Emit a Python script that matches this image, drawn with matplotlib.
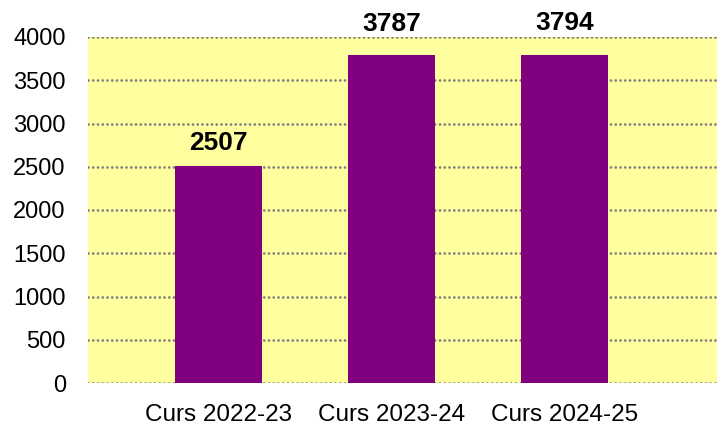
import matplotlib.pyplot as plt

plt.rcParams['font.family'] = ['Liberation Sans', 'DejaVu Sans']

cursos = ['Curs 2022-23', 'Curs 2023-24', 'Curs 2024-25']
valors = [2507, 3787, 3794]
y_ticks = [0, 500, 1000, 1500, 2000, 2500, 3000, 3500, 4000]

fig = plt.figure(figsize=(7.17, 4.29), dpi=100)
ax = fig.add_axes([88 / 717, 1 - 383 / 429, 1 - 88 / 717, (383 - 37) / 429])
ax.set_facecolor('#ffffa0')

x = list(range(len(cursos)))
bars = ax.bar(x, valors, width=0.5, color='#800080', zorder=3)

# etiquetes de valor sobre les barres
offsets = [8, 14, 14]
for b, v, off in zip(bars, valors, offsets):
    ax.annotate(str(v), (b.get_x() + b.get_width() / 2, v),
                xytext=(0, off), textcoords='offset points',
                ha='center', va='bottom', fontsize=19, fontweight='bold')

ax.set_xlim(-0.754, 2.88)
ax.set_ylim(0, 4000)
ax.set_yticks(y_ticks)
ax.set_xticks(x)
ax.set_xticklabels(cursos)
ax.tick_params(axis='y', length=0, pad=16, labelsize=17)
ax.tick_params(axis='x', length=0, pad=15, labelsize=17.5)
ax.yaxis.grid(True, color='#7f7f7f', linestyle=(0, (0.01, 1.7)), linewidth=2,
              dash_capstyle='round', zorder=1)
ax.set_axisbelow(True)
for s in ax.spines.values():
    s.set_visible(False)

fig.savefig('out.png', dpi=100)
